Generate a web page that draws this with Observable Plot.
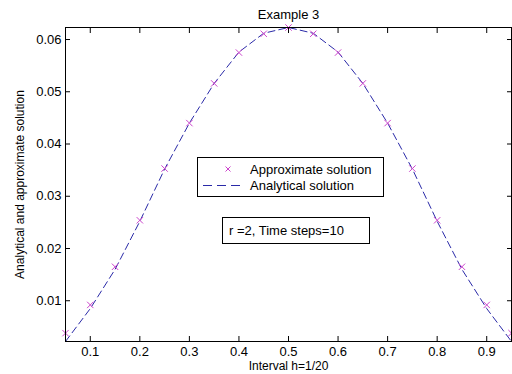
<!DOCTYPE html>
<html>
<head>
<meta charset="utf-8">
<script src="https://cdn.jsdelivr.net/npm/d3@7"></script>
<script src="https://cdn.jsdelivr.net/npm/@observablehq/plot@0.6"></script>
<style>
  html, body { margin: 0; padding: 0; background: #fff; }
  svg { display: block; }
</style>
</head>
<body>
<div id="chart"></div>
<script>
const xs = [0.05, 0.10, 0.15, 0.20, 0.25, 0.30, 0.35, 0.40, 0.45, 0.50,
            0.55, 0.60, 0.65, 0.70, 0.75, 0.80, 0.85, 0.90, 0.95];
const approximate = [0.0038, 0.0092, 0.0165, 0.0254, 0.0353, 0.0440, 0.0516, 0.0575, 0.0611, 0.0623,
                     0.0611, 0.0575, 0.0516, 0.0440, 0.0353, 0.0254, 0.0165, 0.0092, 0.0038];
const analytical = [0.0022, 0.0085, 0.0160, 0.0252, 0.0352, 0.0440, 0.0516, 0.0576, 0.0612, 0.0623,
                    0.0612, 0.0576, 0.0516, 0.0440, 0.0352, 0.0252, 0.0160, 0.0085, 0.0022];
const xTicks = [0.1, 0.2, 0.3, 0.4, 0.5, 0.6, 0.7, 0.8, 0.9];
const yTicks = [0.01, 0.02, 0.03, 0.04, 0.05, 0.06];
const title = "Example 3";
const xLabel = "Interval h=1/20";
const yLabel = "Analytical and approximate solution";
const legendLabels = ["Approximate solution", "Analytical solution"];
const note = "r =2, Time steps=10";

const lineColor = "#2a2aa8";
const markColor = "#cc44cc";
const font = "'Liberation Sans', Arial, sans-serif";

const approxData = xs.map((x, i) => ({x, y: approximate[i]}));
const analyticData = xs.map((x, i) => ({x, y: analytical[i]}));

function annotations(index, scales, values, dims) {
  const g = d3.create("svg:g").attr("font-family", font).attr("font-size", 13)
    .attr("text-anchor", "start").attr("fill", "black");
  // legend box
  g.append("rect").attr("x", 197.5).attr("y", 157.5).attr("width", 186).attr("height", 39)
    .attr("fill", "white").attr("stroke", "black");
  // marker sample
  const mx = 228, my = 169, s = 2.5;
  g.append("path").attr("d", `M${mx-s},${my-s}L${mx+s},${my+s}M${mx-s},${my+s}L${mx+s},${my-s}`)
    .attr("stroke", markColor).attr("fill", "none");
  g.append("text").attr("x", 250).attr("y", 173.5).text(legendLabels[0]);
  g.append("line").attr("x1", 203).attr("x2", 245).attr("y1", 185.5).attr("y2", 185.5)
    .attr("stroke", lineColor).attr("stroke-dasharray", "9,5");
  g.append("text").attr("x", 250).attr("y", 189.5).text(legendLabels[1]);
  // note box
  g.append("rect").attr("x", 222.5).attr("y", 217.5).attr("width", 147).attr("height", 26)
    .attr("fill", "white").attr("stroke", "black");
  g.append("text").attr("x", 229).attr("y", 235).text(note);
  return g.node();
}

const chart = Plot.plot({
  width: 512,
  height: 374,
  marginLeft: 65,
  marginRight: 1,
  marginTop: 27,
  marginBottom: 33,
  style: {fontFamily: font, fontSize: "13px", background: "white", color: "black"},
  x: {domain: [0.05, 0.95]},
  y: {domain: [0.0022, 0.0623]},
  marks: [
    Plot.line(analyticData, {x: "x", y: "y", stroke: lineColor, strokeWidth: 1, strokeDasharray: "7,4"}),
    Plot.dot(approxData, {x: "x", y: "y", symbol: "times", r: 3, stroke: markColor, strokeWidth: 1}),
    Plot.frame({stroke: "black"}),
    Plot.axisX(xTicks, {anchor: "bottom", tickSize: -5, tickPadding: 10, label: null, fontSize: 13, tickFormat: d => String(d)}),
    Plot.axisX(xTicks, {anchor: "top", tickSize: -5, text: null, label: null}),
    Plot.axisY(yTicks, {anchor: "left", tickSize: -5, tickPadding: 9, label: null, fontSize: 13, tickFormat: d => String(d)}),
    Plot.axisY(yTicks, {anchor: "right", tickSize: -5, text: null, label: null}),
    annotations,
    Plot.text([title], {frameAnchor: "top", dy: -13, lineAnchor: "middle", textAnchor: "middle", fontSize: 13}),
    Plot.text([xLabel], {frameAnchor: "bottom", dy: 25, lineAnchor: "middle", textAnchor: "middle", fontSize: 12}),
    Plot.text([yLabel], {frameAnchor: "left", dx: -45, rotate: -90, lineAnchor: "middle", textAnchor: "middle", fontSize: 12})
  ]
});
document.getElementById("chart").appendChild(chart);
</script>
</body>
</html>
